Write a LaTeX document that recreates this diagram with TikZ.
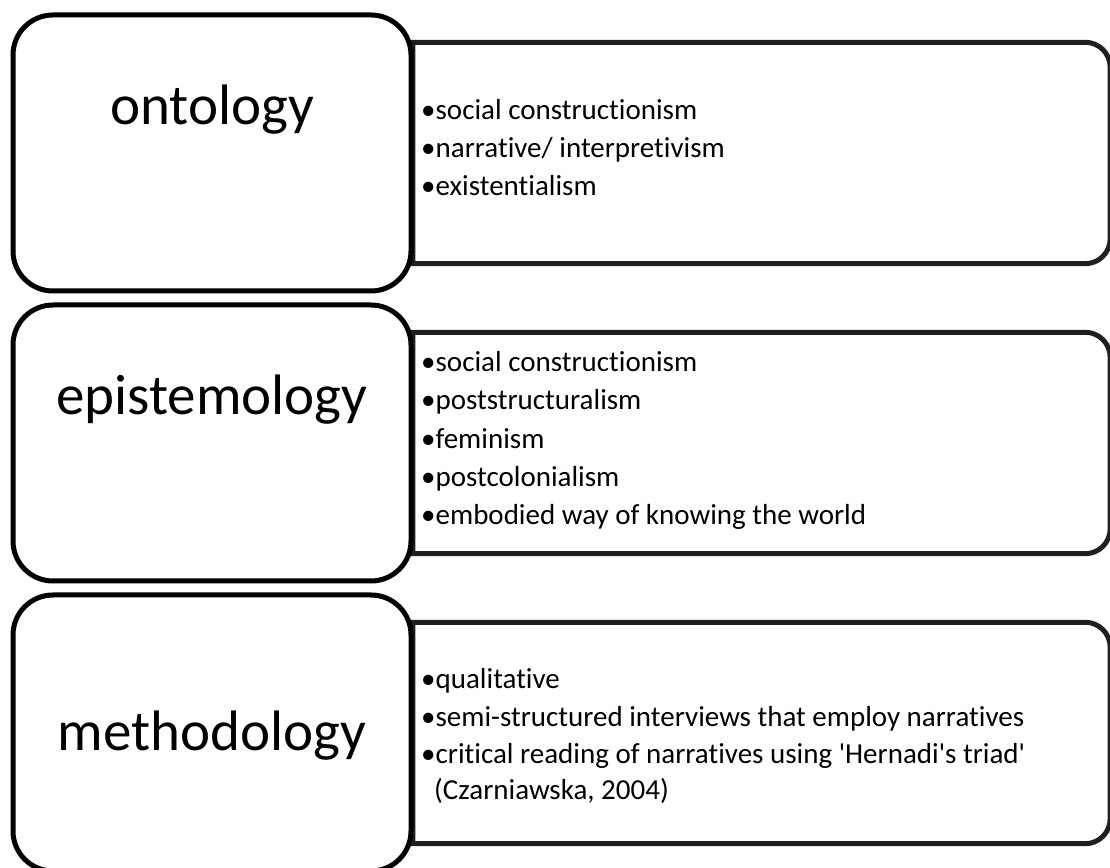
\documentclass[tikz,border=0pt]{standalone}
\usepackage{fontspec}
\setmainfont{Carlito}[Ligatures={TeXOff,CommonOff}]
\begin{document}
\begin{tikzpicture}[x=1pt,y=1pt,
  headbox/.style={draw=black, line width=5pt, fill=white, rounded corners=40pt,
    minimum width=398pt, minimum height=276pt, inner sep=0pt},
  listarea/.style={minimum width=697pt, minimum height=221pt, inner sep=0pt},
  listframe/.style={draw=black!88, line width=5pt, fill=white},
  headlabel/.style={font=\fontsize{57}{68}\selectfont, anchor=base, inner sep=0pt},
  item/.style={font=\fontsize{29}{35}\selectfont, anchor=base west, inner sep=0pt}]
\useasboundingbox (0,0) rectangle (1110,867);

% list panels (square on the left, rounded on the right)
\node[listarea] (ontoR) at (761.5,714) {};
\node[listarea] (episR) at (761.5,424) {};
\node[listarea] (methR) at (761.5,134) {};
\foreach \p in {ontoR,episR,methR}{
  \draw[listframe] (\p.north west) -- ([xshift=-25pt]\p.north east)
    arc[start angle=90,end angle=0,radius=25pt]
    -- ([yshift=25pt]\p.south east)
    arc[start angle=0,end angle=-90,radius=25pt]
    -- (\p.south west) -- cycle;
}

% heading boxes
\node[headbox] (onto) at (212,714) {};
\node[headbox] (epis) at (212,424) {};
\node[headbox] (meth) at (212,134) {};

\node[headlabel] (ontoL) at (212,742) {ontology};
\node[headlabel] (episL) at (212,452) {epistemology};
\node[headlabel] (methL) at (212,117) {methodology};

% ontology items
\node[item] (o1) at (421,747) {•social constructionism};
\node[item] (o2) at (421,709) {•narrative/ interpretivism};
\node[item] (o3) at (421,671) {•existentialism};

% epistemology items
\node[item] (e1) at (421,495) {•social constructionism};
\node[item] (e2) at (421,457) {•poststructuralism};
\node[item] (e3) at (421,418) {•feminism};
\node[item] (e4) at (421,380) {•postcolonialism};
\node[item] (e5) at (421,342) {•embodied way of knowing the world};

% methodology items
\node[item] (m1) at (421,178) {•qualitative};
\node[item] (m2) at (421,140) {•semi-structured interviews that employ narratives};
\node[item] (m3) at (421,103) {•critical reading of narratives using 'Hernadi's triad'};
\node[item] (m4) at (434,67) {(Czarniawska, 2004)};
\end{tikzpicture}
\end{document}
